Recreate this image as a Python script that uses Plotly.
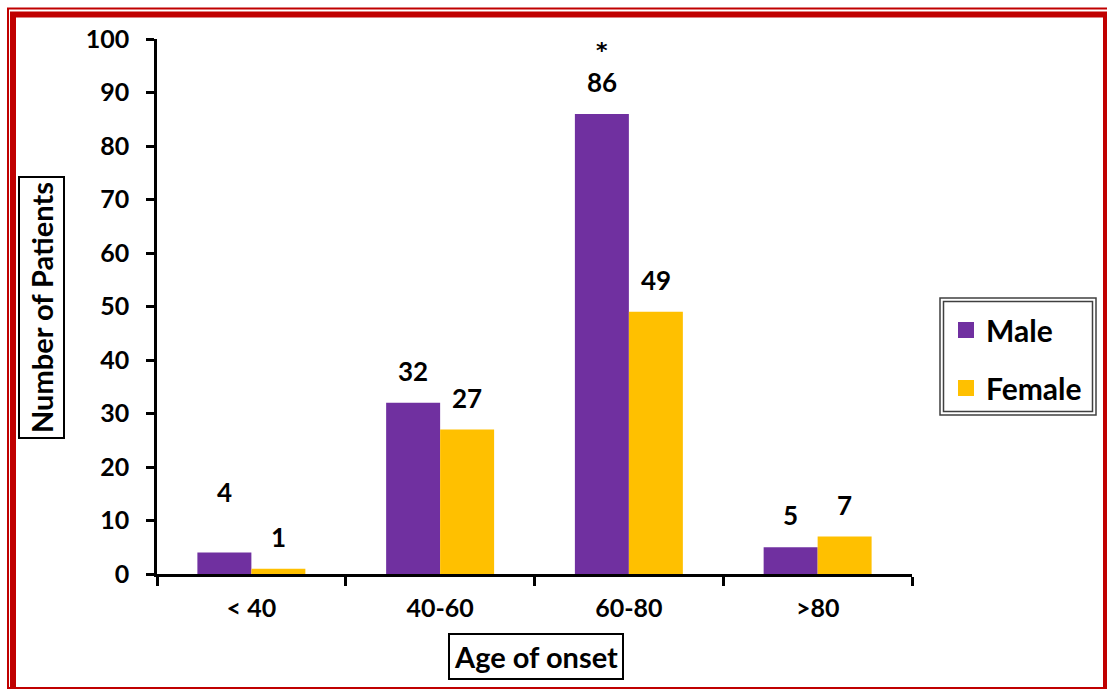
import plotly.graph_objects as go

# Age-of-onset groups and patient counts by sex
age_groups = ["< 40", "40-60", "60-80", ">80"]
male_counts = [4, 32, 86, 5]
female_counts = [1, 27, 49, 7]
significant = ["", "", "*", ""]  # marker shown above the male count

y_ticks = list(range(0, 101, 10))

PURPLE = "#7030A0"
GOLD = "#FFC000"
RED = "#C00000"
FONT = "Lato"

W, H = 1107, 689
L, R, T, B = 157, 195, 39, 115
PW, PH = W - L - R, H - T - B


def px(x):
    return (x - L) / PW


def py(y):
    return (H - B - y) / PH


fig = go.Figure()
fig.add_trace(go.Bar(name="Male", x=age_groups, y=male_counts, showlegend=False,
                     marker=dict(color=PURPLE, line=dict(width=0))))
fig.add_trace(go.Bar(name="Female", x=age_groups, y=female_counts, showlegend=False,
                     marker=dict(color=GOLD, line=dict(width=0))))

# Legend entries with larger square swatches
for name, col, grp in [("Male", PURPLE, "m"), ("Female", GOLD, "f")]:
    fig.add_trace(go.Scatter(name=name, x=[None], y=[None], mode="markers",
                             marker=dict(symbol="square", size=18, color=col),
                             legendgroup=grp, showlegend=True))

# Value labels above each bar
label_font = dict(family=FONT, size=26, color="black", weight="bold")
extra_lift = {(0, 0): 29}
for i, g in enumerate(age_groups):
    for s, vals in enumerate([male_counts, female_counts]):
        dx = -27 if s == 0 else 27
        lift = 14 + extra_lift.get((i, s), 0)
        fig.add_annotation(x=g, y=vals[i], text=str(vals[i]), showarrow=False,
                           xref="x", yref="y", xshift=dx,
                           yanchor="bottom", yshift=lift, font=label_font)
        if s == 0 and significant[i]:
            fig.add_annotation(x=g, y=vals[i], text=significant[i], showarrow=False,
                               xref="x", yref="y", xshift=dx,
                               yanchor="bottom", yshift=lift + 35,
                               font=dict(family="DejaVu Sans", size=22, color="black",
                                         weight="bold"))

# Boxed axis titles
title_font = dict(family=FONT, size=29, color="black", weight="bold")
fig.add_annotation(xref="paper", yref="paper", x=px(41), y=py(308), text="Number of Patients",
                   textangle=-90, showarrow=False, xanchor="center", yanchor="middle",
                   font=title_font, bordercolor="black", borderwidth=2, borderpad=4,
                   bgcolor="white")
fig.add_annotation(xref="paper", yref="paper", x=px(536), y=py(656), text="Age of onset",
                   showarrow=False, xanchor="center", yanchor="middle",
                   font=title_font, bordercolor="black", borderwidth=2, borderpad=4,
                   bgcolor="white")

shapes = []


def line(x0, y0, x1, y1, w, c):
    shapes.append(dict(type="line", xref="paper", yref="paper",
                       x0=px(x0), y0=py(y0), x1=px(x1), y1=py(y1),
                       line=dict(color=c, width=w), layer="above"))


# Red double frame
line(7, 8.5, W, 8.5, 2, RED)
line(8, 8, 8, H, 2, RED)
line(10, 14.5, W, 14.5, 6, RED)
line(13, 12, 13, H, 6, RED)
line(1105, 12, 1105, H, 4, RED)
line(8, 688, W, 688, 2, RED)

# Double border around the legend
shapes.append(dict(type="rect", xref="paper", yref="paper",
                   x0=px(940), y0=py(298), x1=px(1096), y1=py(415),
                   line=dict(color="#404040", width=1.5)))
shapes.append(dict(type="rect", xref="paper", yref="paper",
                   x0=px(943.5), y0=py(301.5), x1=px(1092.5), y1=py(411.5),
                   line=dict(color="#404040", width=1.5)))

fig.update_layout(
    width=W, height=H,
    margin=dict(l=L, r=R, t=T, b=B),
    paper_bgcolor="white", plot_bgcolor="white",
    barmode="group", bargap=0.428, bargroupgap=0,
    font=dict(family=FONT, size=25, color="black", weight="bold"),
    shapes=shapes,
    showlegend=True,
    legend=dict(x=px(946), y=py(304), xanchor="left", yanchor="top",
                font=dict(family=FONT, size=30, color="black", weight="bold"),
                bgcolor="rgba(0,0,0,0)", borderwidth=0, tracegroupgap=16,
                itemsizing="trace", itemwidth=30),
    xaxis=dict(showline=True, linecolor="black", linewidth=2.5,
               ticks="outside", tickson="boundaries", ticklen=9, tickwidth=2.5,
               tickcolor="black", showgrid=False, ticklabelstandoff=10,
               tickfont=dict(family=FONT, size=25, weight="bold")),
    yaxis=dict(range=[0, 100], tickvals=y_ticks, showline=True, linecolor="black",
               linewidth=2.5, ticks="outside", ticklen=8, tickwidth=2.5,
               tickcolor="black", showgrid=False, zeroline=False,
               ticklabelstandoff=12,
               tickfont=dict(family=FONT, size=25, weight="bold")),
)

fig.write_html("out.html")
